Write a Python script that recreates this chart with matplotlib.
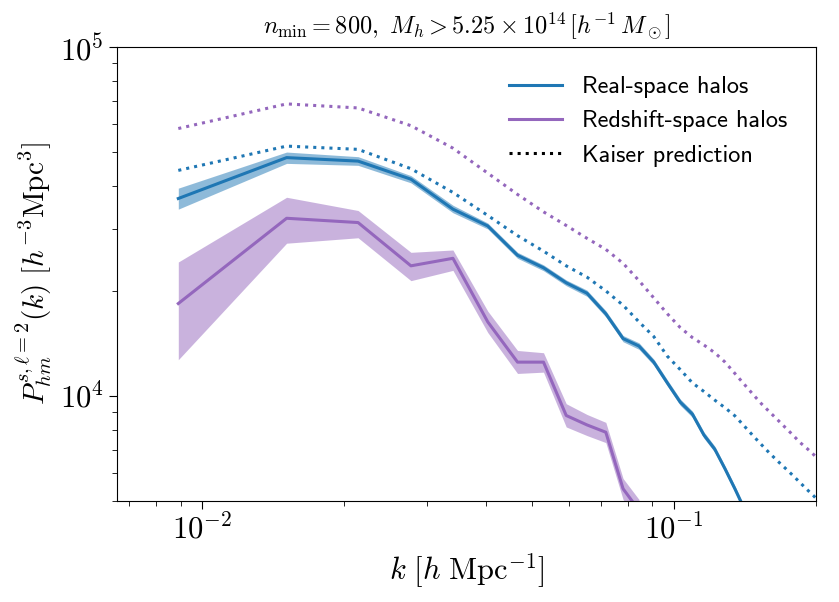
import numpy as np
import matplotlib.pyplot as plt

plt.rcParams['mathtext.fontset'] = 'cm'
plt.rcParams['font.family'] = 'serif'
plt.rcParams['font.serif'] = ['cmr10', 'DejaVu Serif']
plt.rcParams['axes.formatter.use_mathtext'] = True

# k bins [h/Mpc]
k = [0.0089, 0.0151, 0.0214, 0.0277, 0.0340, 0.0403, 0.0466, 0.0529,
     0.0591, 0.0654, 0.0717, 0.0780, 0.0843, 0.0906, 0.0968, 0.1031,
     0.1094, 0.1157, 0.1220, 0.1283, 0.1346, 0.1409, 0.1471, 0.1534,
     0.1597, 0.1660, 0.1723, 0.1786, 0.1849, 0.1912, 0.1975, 0.2038]

# real-space halos (measured)
p_real = [36800, 48200, 47100, 41800, 34300, 30700, 25300, 23300,
          21100, 19700, 17200, 14600, 13900, 12500, 10900, 9600,
          8870, 7730, 7040, 6180, 5420, 4750]
p_real_lo = [34300, 46400, 45800, 40800, 33500, 30100, 24800, 22850,
             20700, 19300, 16850, 14300, 13600, 12250, 10680, 9400,
             8690, 7570, 6900, 6050, 5310, 4650]
p_real_hi = [39400, 50000, 48500, 42800, 35200, 31300, 25800, 23750,
             21500, 20100, 17550, 14900, 14200, 12750, 11120, 9800,
             9050, 7890, 7180, 6300, 5530, 4850]

# redshift-space halos (measured)
p_red = [18400, 32300, 31400, 23600, 24800, 16300, 12500, 12500,
         8790, 8260, 7870, 5420, 4700]
p_red_lo = [12700, 27400, 28400, 21400, 22900, 15200, 11600, 11700,
            8150, 7700, 7350, 5050, 4350]
p_red_hi = [24200, 37100, 34000, 25800, 26200, 17500, 13500, 13300,
            9500, 8850, 8400, 5800, 5050]

# Kaiser predictions
kaiser_real = [44300, 52000, 50900, 44800, 38300, 32900, 28800, 26000,
               23600, 21900, 20000, 18200, 16300, 14800, 13000, 11900,
               10900, 10300, 9730, 9250, 8770, 8200, 7690, 7240,
               6840, 6500, 6200, 5920, 5650, 5400, 5180, 4950]
kaiser_red = [58400, 68700, 66900, 59500, 51300, 43500, 37800, 33700,
              30800, 28300, 26300, 24000, 21400, 19100, 17200, 15700,
              14700, 14000, 13300, 12500, 11600, 10800, 10100, 9480,
              8980, 8530, 8110, 7730, 7360, 7080, 6800, 6530]

c_real = '#1f77b4'
c_red = '#9467bd'

fig, ax = plt.subplots(figsize=(8.39, 6.02), dpi=100)
fig.subplots_adjust(left=0.1395, right=0.9726, top=0.9219, bottom=0.1678)

n1 = len(p_real)
n2 = len(p_red)
ax.fill_between(k[:n1], p_real_lo, p_real_hi, color=c_real, alpha=0.5, lw=0)
ax.plot(k[:n1], p_real, color=c_real, lw=2.2, label='Real-space halos')
ax.fill_between(k[:n2], p_red_lo, p_red_hi, color=c_red, alpha=0.5, lw=0)
ax.plot(k[:n2], p_red, color=c_red, lw=2.2, label='Redshift-space halos')
ax.plot(k, kaiser_real, color=c_real, lw=2.2, ls=':')
ax.plot(k, kaiser_red, color=c_red, lw=2.2, ls=':')
ax.plot([], [], color='k', lw=2.2, ls=':', label='Kaiser prediction')

ax.set_xscale('log')
ax.set_yscale('log')
ax.set_xlim(0.0066, 0.2)
ax.set_ylim(5000, 1e5)

ax.tick_params(which='major', labelsize=22, length=6)
ax.tick_params(which='minor', length=3.5)

ax.set_xlabel(r'$k\ [h\ {\rm Mpc}^{-1}]$', fontsize=22)
ax.set_ylabel(r'$P_{hm}^{s,\ell=2}(k)\ [h^{-3}{\rm Mpc}^3]$', fontsize=21)
ax.set_title(r'$n_{\rm min} = 800,\ M_h > 5.25 \times 10^{14}\,[h^{-1}\,M_\odot]$',
             fontsize=17.5, pad=9)

ax.legend(loc='upper right', frameon=False, handlelength=2.2,
          labelspacing=0.5, borderaxespad=0.8,
          prop={'family': 'cmss10', 'size': 17.5})

plt.savefig('out.png', dpi=100)
